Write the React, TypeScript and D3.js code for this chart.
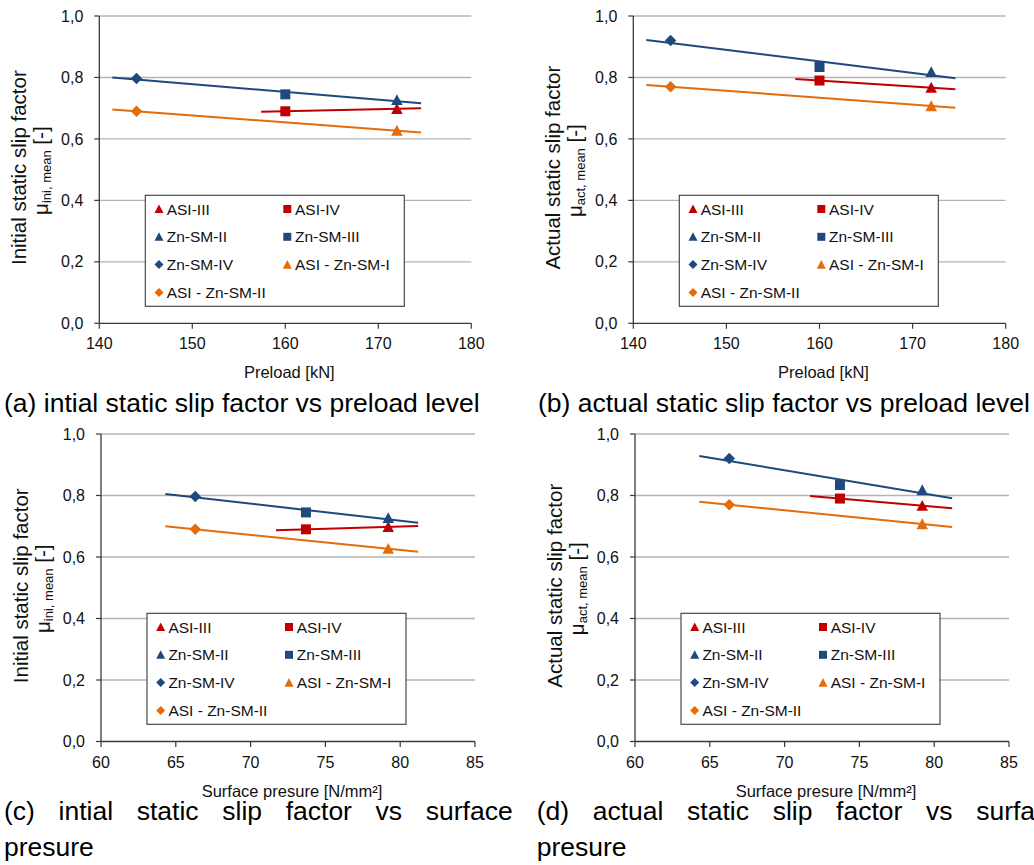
import React from "react";
import * as d3 from "d3";

// ---- data -------------------------------------------------------------
const seriesNames = [
  "ASI-III",
  "ASI-IV",
  "Zn-SM-II",
  "Zn-SM-III",
  "Zn-SM-IV",
  "ASI - Zn-SM-I",
  "ASI - Zn-SM-II",
];
const seriesShapes = ["triangle", "square", "triangle", "square", "diamond", "triangle", "diamond"];
const seriesGroups = ["ASI", "ASI", "ZnSM", "ZnSM", "ZnSM", "Mixed", "Mixed"];

const preloadKN = [172, 160, 172, 160, 144, 172, 144];
const surfacePressure = [79.2, 73.7, 79.2, 73.7, 66.3, 79.2, 66.3];
const muIniMean = [0.698, 0.69, 0.727, 0.745, 0.797, 0.627, 0.69];
const muActMean = [0.767, 0.79, 0.818, 0.834, 0.92, 0.707, 0.77];

const preloadTicks = [140, 150, 160, 170, 180];
const pressureTicks = [60, 65, 70, 75, 80, 85];
const muTicks = [0, 0.2, 0.4, 0.6, 0.8, 1.0];

const groupColors: Record<string, string> = {
  ASI: "#C00000",
  ZnSM: "#1F497D",
  Mixed: "#E46C0A",
};
const groupOrder = ["ZnSM", "ASI", "Mixed"];

// ---- layout -----------------------------------------------------------
const FONT = "'Liberation Sans', Arial, Helvetica, sans-serif";
const AXIS = "#3a3a3a";
const GRID = "#b4b4b4";

type Panel = {
  xs: number[];
  ys: number[];
  xDomain: [number, number];
  xTicks: number[];
  left: number;
  top: number;
  width: number;
  height: number;
  xTitle: string;
  yTitle: string;
  ySub: string;
  forecast: number;
};

const panels: Panel[] = [
  {
    xs: preloadKN, ys: muIniMean, xDomain: [140, 180], xTicks: preloadTicks,
    left: 99.3, top: 16, width: 372, height: 307.3,
    xTitle: "Preload [kN]", yTitle: "Initial static slip factor", ySub: "ini, mean", forecast: 2.6,
  },
  {
    xs: preloadKN, ys: muActMean, xDomain: [140, 180], xTicks: preloadTicks,
    left: 633.3, top: 16, width: 372.4, height: 307.3,
    xTitle: "Preload [kN]", yTitle: "Actual static slip factor", ySub: "act, mean", forecast: 2.6,
  },
  {
    xs: surfacePressure, ys: muIniMean, xDomain: [60, 85], xTicks: pressureTicks,
    left: 101, top: 434, width: 374, height: 307.5,
    xTitle: "Surface presure [N/mm²]", yTitle: "Initial static slip factor", ySub: "ini, mean", forecast: 2.0,
  },
  {
    xs: surfacePressure, ys: muActMean, xDomain: [60, 85], xTicks: pressureTicks,
    left: 635, top: 434, width: 374, height: 307.5,
    xTitle: "Surface presure [N/mm²]", yTitle: "Actual static slip factor", ySub: "act, mean", forecast: 2.0,
  },
];

// ---- marker shapes ----------------------------------------------------
const triangleType = {
  draw(ctx: any, size: number) {
    const r = Math.sqrt(size) / 2;
    ctx.moveTo(0, -r);
    ctx.lineTo(r, r * 0.9);
    ctx.lineTo(-r, r * 0.9);
    ctx.closePath();
  },
};
const diamondType = {
  draw(ctx: any, size: number) {
    const r = Math.sqrt(size) / 2;
    ctx.moveTo(0, -r);
    ctx.lineTo(r, 0);
    ctx.lineTo(0, r);
    ctx.lineTo(-r, 0);
    ctx.closePath();
  },
};
const shapeTypes: Record<string, any> = {
  triangle: triangleType,
  square: d3.symbolSquare,
  diamond: diamondType,
};
const markerPath = (shape: string, side: number) =>
  d3.symbol().type(shapeTypes[shape]).size(side * side)() as string;

const plotSide: Record<string, number> = { triangle: 11.5, square: 10, diamond: 11.5 };
const legendSide: Record<string, number> = { triangle: 9, square: 8, diamond: 9 };

const fmtMu = (v: number) => d3.format(".1f")(v).replace(".", ",");

// least-squares straight line through a group's points
function linearFit(xs: number[], ys: number[]) {
  const mx = d3.mean(xs)!;
  const my = d3.mean(ys)!;
  let sxy = 0;
  let sxx = 0;
  xs.forEach((x, i) => {
    sxy += (x - mx) * (ys[i] - my);
    sxx += (x - mx) * (x - mx);
  });
  const slope = sxx === 0 ? 0 : sxy / sxx;
  return (x: number) => my + slope * (x - mx);
}

function ChartPanel({ p }: { p: Panel }) {
  const x = d3.scaleLinear().domain(p.xDomain).range([p.left, p.left + p.width]);
  const y = d3.scaleLinear().domain([0, 1]).range([p.top + p.height, p.top]);
  const bottom = p.top + p.height;
  const right = p.left + p.width;
  const line = d3
    .line<[number, number]>()
    .x((d) => x(d[0]))
    .y((d) => y(d[1]));

  const trends = groupOrder.map((g) => {
    const idx = seriesGroups.map((s, i) => (s === g ? i : -1)).filter((i) => i >= 0);
    const gx = idx.map((i) => p.xs[i]);
    const gy = idx.map((i) => p.ys[i]);
    const f = linearFit(gx, gy);
    const x0 = d3.min(gx)! - p.forecast;
    const x1 = d3.max(gx)! + p.forecast;
    return { g, d: line([[x0, f(x0)], [x1, f(x1)]]) as string };
  });

  const legX = p.left + 46;
  const legY = p.top + 179.3;
  const legW = 259;
  const legH = 111;

  const midY = p.top + p.height / 2;

  return (
    <g>
      {/* horizontal gridlines */}
      {muTicks.filter((t) => t > 0).map((t) => (
        <line key={t} x1={p.left} x2={right} y1={y(t)} y2={y(t)} stroke={GRID} strokeWidth={1.4} />
      ))}
      {/* axes */}
      <line x1={p.left} x2={p.left} y1={p.top} y2={bottom} stroke={AXIS} strokeWidth={1.3} />
      <line x1={p.left} x2={right} y1={bottom} y2={bottom} stroke={AXIS} strokeWidth={1.3} />
      {muTicks.map((t) => (
        <g key={"y" + t}>
          <line x1={p.left - 5} x2={p.left} y1={y(t)} y2={y(t)} stroke={AXIS} strokeWidth={1.2} />
          <text x={p.left - 16} y={y(t) + 5.6} textAnchor="end" fontSize={16} fontFamily={FONT} fill="#111">
            {fmtMu(t)}
          </text>
        </g>
      ))}
      {p.xTicks.map((t) => (
        <g key={"x" + t}>
          <line x1={x(t)} x2={x(t)} y1={bottom} y2={bottom + 5.5} stroke={AXIS} strokeWidth={1.2} />
          <text x={x(t)} y={bottom + 26} textAnchor="middle" fontSize={16} fontFamily={FONT} fill="#111">
            {t}
          </text>
        </g>
      ))}
      {/* axis titles */}
      <text x={p.left + p.width / 2 + 4} y={bottom + 55} textAnchor="middle" fontSize={16.5} fontFamily={FONT} fill="#111">
        {p.xTitle}
      </text>
      <text
        transform={`translate(${p.left - 73.5},${midY - 2}) rotate(-90)`}
        textAnchor="middle"
        fontSize={20.5}
        fontFamily={FONT}
        fill="#111"
      >
        {p.yTitle}
      </text>
      <text
        transform={`translate(${p.left - 51.5},${midY + 1}) rotate(-90)`}
        textAnchor="middle"
        fontSize={20.5}
        fontFamily={FONT}
        fill="#111"
      >
        <tspan>μ</tspan>
        <tspan fontSize={13} dy={3}>{p.ySub}</tspan>
        <tspan dy={-3}> [-]</tspan>
      </text>
      {/* trendlines */}
      {trends.map((t) => (
        <path key={t.g} d={t.d} fill="none" stroke={groupColors[t.g]} strokeWidth={2} />
      ))}
      {/* data markers */}
      {seriesNames.map((name, i) => (
        <path
          key={name}
          d={markerPath(seriesShapes[i], plotSide[seriesShapes[i]])}
          transform={`translate(${x(p.xs[i])},${y(p.ys[i])})`}
          fill={groupColors[seriesGroups[i]]}
        />
      ))}
      {/* legend */}
      <rect x={legX} y={legY} width={legW} height={legH} fill="#fff" stroke={AXIS} strokeWidth={1.1} />
      {seriesNames.map((name, i) => {
        const col = i % 2;
        const row = Math.floor(i / 2);
        const cy = legY + 13.7 + row * 27.8;
        const mx = legX + (col === 0 ? 13.7 : 142);
        return (
          <g key={"leg" + name}>
            <path
              d={markerPath(seriesShapes[i], legendSide[seriesShapes[i]])}
              transform={`translate(${mx},${cy})`}
              fill={groupColors[seriesGroups[i]]}
            />
            <text x={mx + 7.7} y={cy + 5.6} fontSize={15.5} fontFamily={FONT} fill="#111">
              {name}
            </text>
          </g>
        );
      })}
    </g>
  );
}

const CAPTION_SIZE = 26.5;
// extra gap between words of the justified caption lines
const JUSTIFY_SPACING = 16.3;

function Caption({ x, y, text, spacing = 0 }: { x: number; y: number; text: string; spacing?: number }) {
  return (
    <text x={x} y={y} fontSize={CAPTION_SIZE} fontFamily={FONT} fill="#000" wordSpacing={spacing}>
      {text}
    </text>
  );
}

export default function App() {
  return (
    <svg
      width={1034}
      height={865}
      viewBox="0 0 1034 865"
      style={{ position: "absolute", left: 0, top: 0, background: "#fff" }}
    >
      <rect width={1034} height={865} fill="#fff" />
      {panels.map((p, i) => (
        <ChartPanel key={i} p={p} />
      ))}
      <Caption x={4} y={411.7} text="(a) intial static slip factor vs preload level" />
      <Caption x={538} y={411.7} text="(b) actual static slip factor vs preload level" />
      <Caption x={4} y={820} text="(c) intial static slip factor vs surface" spacing={JUSTIFY_SPACING} />
      <Caption x={4} y={855.5} text="presure" />
      <Caption x={536.7} y={820} text="(d) actual static slip factor vs surface" spacing={JUSTIFY_SPACING} />
      <Caption x={536.7} y={855.5} text="presure" />
    </svg>
  );
}
